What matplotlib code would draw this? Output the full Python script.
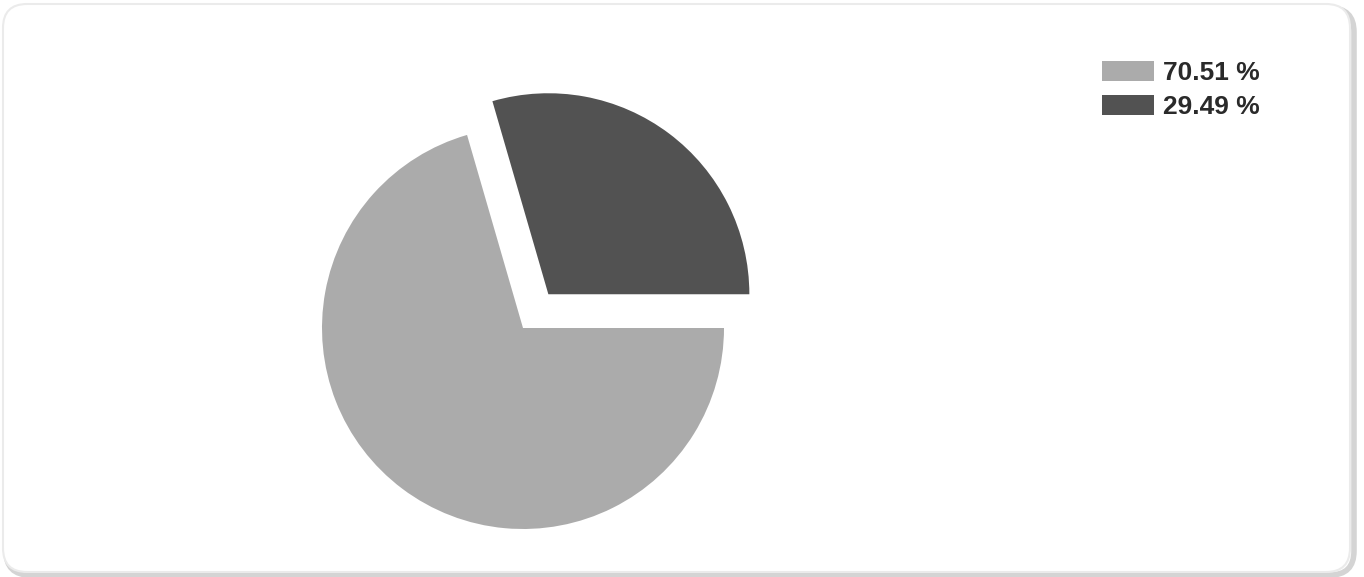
import numpy as np
import matplotlib.pyplot as plt
from matplotlib.patches import FancyBboxPatch

W, H = 1364, 577

shares = [70.51, 29.49]
labels = ['70.51 %', '29.49 %']
colors = ['#ababab', '#525252']
pull_out = [0.0, 0.21]  # fraction of radius

R = 201
fig = plt.figure(figsize=(W / 100, H / 100), dpi=100, facecolor='white')
ax = fig.add_axes([0, 0, 1, 1])

# card frame with a soft shadow
shadow = FancyBboxPatch((6, 2), W - 16, H - 10, boxstyle='round,pad=0,rounding_size=24',
                        fc='none', ec='#d4d4d4', lw=4, zorder=0)
ax.add_patch(shadow)
card = FancyBboxPatch((3, 5), W - 17, H - 9, boxstyle='round,pad=0,rounding_size=24',
                      fc='white', ec='#ebebeb', lw=1.5, zorder=1)
ax.add_patch(card)

# small slice goes from 3 o'clock counter-clockwise
explode = [p * R for p in pull_out]
wedges, _ = ax.pie(shares[::-1], colors=colors[::-1], explode=explode[::-1],
                   startangle=0, counterclock=True, center=(523, H - 328),
                   radius=R, frame=True,
                   wedgeprops=dict(linewidth=0, zorder=2))
ax.set_xlim(0, W)
ax.set_ylim(0, H)
ax.set_aspect('equal')
ax.set_axis_off()

handles = wedges[::-1]
leg = ax.legend(handles, labels, loc='upper left',
                bbox_to_anchor=(1102 / W, 1 - 61 / H), bbox_transform=fig.transFigure,
                frameon=False, borderpad=0, borderaxespad=0,
                handlelength=1.97, handleheight=0.8,
                handletextpad=0.34, labelspacing=0.36,
                prop=dict(size=19, weight='bold', family='Liberation Sans'))
for t in leg.get_texts():
    t.set_color('#2a2a2a')
leg.set_zorder(3)

fig.savefig('out.png', dpi=100, facecolor='white')
